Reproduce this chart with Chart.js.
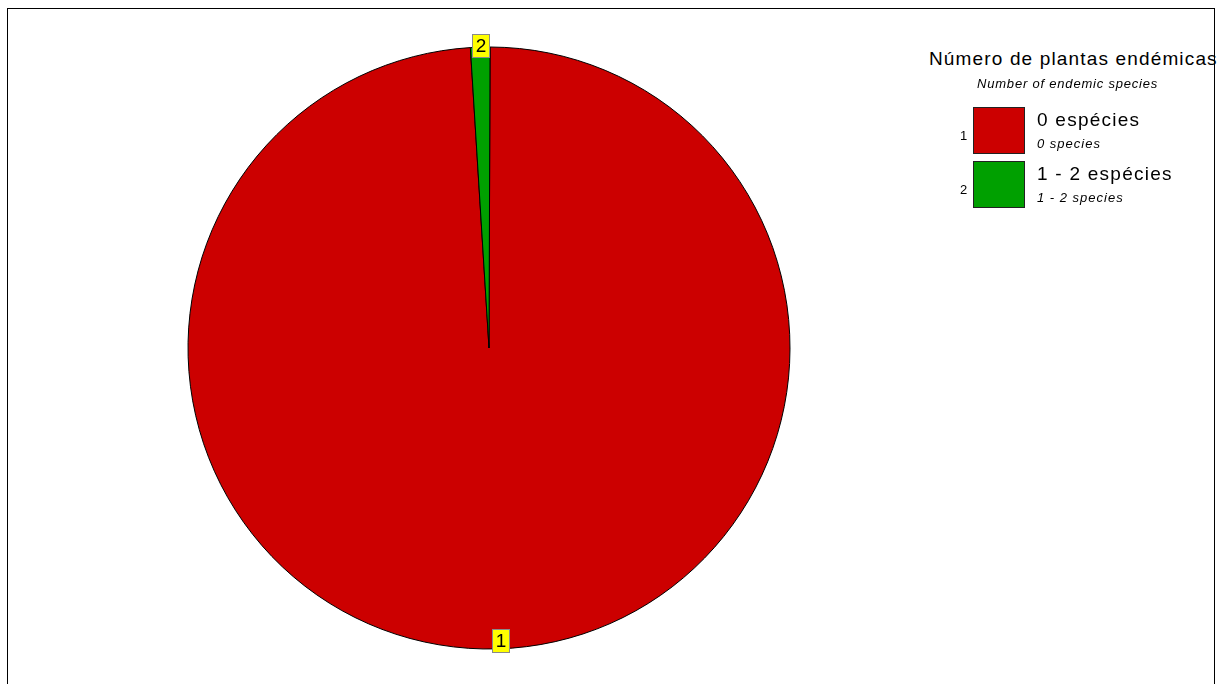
<!DOCTYPE html>
<html>
<head>
<meta charset="utf-8">
<script src="https://cdn.jsdelivr.net/npm/chart.js@4"></script>
<style>
  html, body { margin: 0; padding: 0; background: #fff; width: 1224px; height: 684px; overflow: hidden; }
  body { position: relative; font-family: "Liberation Sans", Arial, sans-serif; color: #000; }
  #frame { position: absolute; left: 7px; top: 8px; width: 1206px; height: 720px;
           border-top: 1px solid #000; border-left: 1px solid #000; border-right: 1px solid #000; z-index: 5; }
  #chart { position: absolute; left: 149px; top: 8px; }
  .t { position: absolute; white-space: nowrap; line-height: 1; }
  .box { position: absolute; box-sizing: border-box; border: 1px solid #222; }
</style>
</head>
<body>
<canvas id="chart" width="680" height="680"></canvas>
<div id="legend"></div>
<div id="frame"></div>
<script>
// ---- data ----
const legendTitle = 'Número de plantas endémicas';
const legendSubtitle = 'Number of endemic species';
const classIds = ['1', '2'];
const categories = ['0 espécies', '1 - 2 espécies'];
const categoriesEn = ['0 species', '1 - 2 species'];
const values = [95, 1];
const colors = ['#CC0000', '#00A000'];

// ---- slice labels plugin (yellow boxes) ----
const sliceLabels = {
  id: 'sliceLabels',
  afterDatasetsDraw(chart) {
    const ctx = chart.ctx;
    const meta = chart.getDatasetMeta(0);
    meta.data.forEach((arc, i) => {
      const p = arc.getProps(['x', 'y', 'startAngle', 'endAngle', 'outerRadius'], true);
      const mid = (p.startAngle + p.endAngle) / 2;
      let cx = p.x + Math.cos(mid) * p.outerRadius;
      let cy = p.y + Math.sin(mid) * p.outerRadius;
      cy += Math.sin(mid) > 0 ? -8.5 : -1.5;
      if (Math.sin(mid) > 0) cx += 2.5;
      const w = 17, h = 23;
      ctx.save();
      ctx.fillStyle = '#FFFF00';
      ctx.strokeStyle = '#8a8a8a';
      ctx.lineWidth = 1;
      const x0 = Math.round(cx - w / 2) + 0.5, y0 = Math.round(cy - h / 2) + 0.5;
      ctx.fillRect(x0, y0, w, h);
      ctx.strokeRect(x0, y0, w, h);
      ctx.fillStyle = '#000';
      ctx.font = '19px "Liberation Sans", Arial, sans-serif';
      ctx.textAlign = 'center';
      ctx.textBaseline = 'middle';
      ctx.fillText(classIds[i], x0 + w / 2, y0 + h / 2 + 1);
      ctx.restore();
    });
  }
};

new Chart(document.getElementById('chart'), {
  type: 'pie',
  data: {
    labels: categories,
    datasets: [{
      data: values,
      backgroundColor: colors,
      borderColor: '#000',
      borderWidth: 1,
      hoverOffset: 0
    }]
  },
  options: {
    responsive: false,
    animation: false,
    rotation: 0.2,
    radius: 301,
    layout: { padding: 0 },
    plugins: {
      legend: { display: false },
      tooltip: { enabled: false }
    },
    events: []
  },
  plugins: [sliceLabels]
});

// ---- HTML legend built from data ----
const L = document.getElementById('legend');
function addText(txt, left, top, size, italic, spacing) {
  const d = document.createElement('div');
  d.className = 't';
  d.textContent = txt;
  d.style.fontSize = size + 'px';
  d.style.top = top + 'px';
  d.style.left = left + 'px';
  if (spacing) d.style.letterSpacing = spacing + 'px';
  if (italic) d.style.fontStyle = 'italic';
  L.appendChild(d);
}
addText(legendTitle, 929, 48.5, 19, false, 1.15);
addText(legendSubtitle, 977, 77, 13, true, 0.8);
categories.forEach((c, i) => {
  const y0 = 107 + i * 54;
  const b = document.createElement('div');
  b.className = 'box';
  b.style.left = '973px';
  b.style.top = y0 + 'px';
  b.style.width = '52px';
  b.style.height = '47px';
  b.style.background = colors[i];
  L.appendChild(b);
  addText(classIds[i], 960, y0 + 21.5, 13, false, 0);
  addText(c, 1037, y0 + 2.5, 19, false, 1.25);
  addText(categoriesEn[i], 1037, y0 + 30.3, 13, true, 1.0);
});
</script>
</body>
</html>
